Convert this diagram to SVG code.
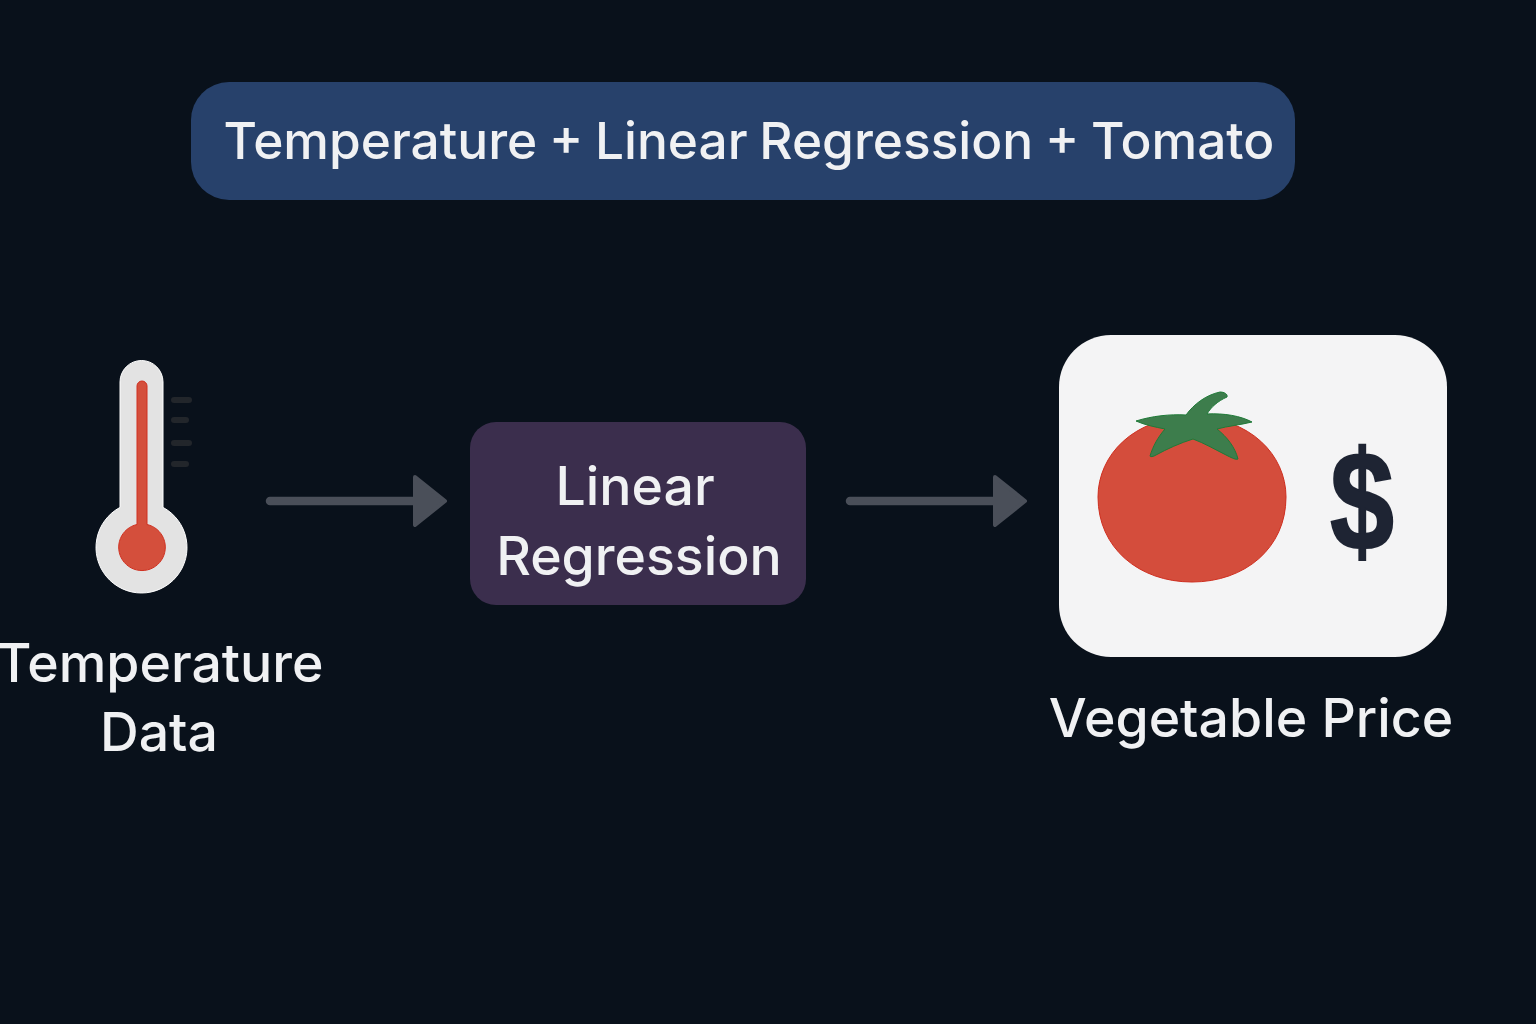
<svg xmlns="http://www.w3.org/2000/svg" width="1536" height="1024" viewBox="0 0 1536 1024">
<style>
.t{font-family:"Inter","Noto Sans",sans-serif;font-size:53.600px;font-weight:500;fill:#f0f1f3;text-anchor:middle}
.c{fill:none;stroke:#4a4f59;stroke-width:8.500;stroke-linecap:round}
.h{fill:#4a4f59;stroke:#4a4f59;stroke-width:4;stroke-linejoin:round}
.tick{fill:#22262b}
</style>
<rect width="1536" height="1024" fill="#09111b"/>
<g id="title"><rect x="191" y="82" width="1104" height="118" rx="38" fill="#27416b"/>
<text class="t" x="749" y="159" style="font-size:51.400px;word-spacing:-2px">Temperature + Linear Regression + Tomato</text></g>
<g id="temperature">
<path d="M120 382a21.500 21.500 0 0 1 43 0V507.400a45.500 45.500 0 1 1-43 0Z" fill="#e3e3e3" stroke="#ffffff" stroke-width="1"/>
<path d="M137 386a5 5 0 0 1 10 0V524.500a23.300 23.300 0 1 1-10 0Z" fill="#d44f3c" stroke="#d03020" stroke-width="1"/>
<rect class="tick" x="171" y="397" width="21" height="6" rx="3"/><rect class="tick" x="171" y="417" width="18" height="6" rx="3"/><rect class="tick" x="171" y="440" width="21" height="6" rx="3"/><rect class="tick" x="171" y="461" width="18" height="6" rx="3"/>
<text class="t" x="160" y="682">Temperature</text><text class="t" x="159" y="751">Data</text></g>
<g id="regression"><rect x="470" y="422" width="336" height="183" rx="26" fill="#3b2e4d"/>
<text class="t" x="635" y="505">Linear</text><text class="t" x="639" y="575">Regression</text></g>
<g id="price"><rect x="1059" y="335" width="388" height="322" rx="52" fill="#f4f4f5"/>
<path d="M1192 417C1250 417 1286 455 1286 497C1286 548 1245 582 1192 582C1139 582 1098 548 1098 497C1098 455 1134 417 1192 417Z" fill="#d44d3c" stroke="#cf2f20" stroke-width="1"/>
<path d="M1186 415C1194 404 1206 395 1220 392C1224 392 1228 394 1227 397C1218 401 1211 407 1207 414C1224 413 1241 416 1252 422C1240 425 1228 426 1217 429C1227 437 1235 447 1238 459C1236 460 1232 458 1228 456C1216 450 1204 443 1193 439C1180 443 1167 449 1156 455C1153 457 1150 457 1150 456C1153 446 1158 437 1165 429C1155 427 1145 425 1136 421C1152 416 1170 414 1186 415Z" fill="#3d7d4c" stroke="#1f7a38" stroke-width="1"/>
<text transform="translate(1362 550) scale(.84 1.03)" style="font-family:'Liberation Sans',sans-serif;font-size:137px;font-weight:700;text-anchor:middle;fill:#1e2433;stroke:#1e2433;stroke-width:2">$</text>
<text class="t" x="1251" y="737">Vegetable Price</text></g>
<g id="connectors">
<path class="c" d="M270 501H420"/><path class="h" d="M415 477L445 501L415 525Z"/>
<path class="c" d="M850 501H1000"/><path class="h" d="M995 477L1025 501L995 525Z"/>
</g>
</svg>
